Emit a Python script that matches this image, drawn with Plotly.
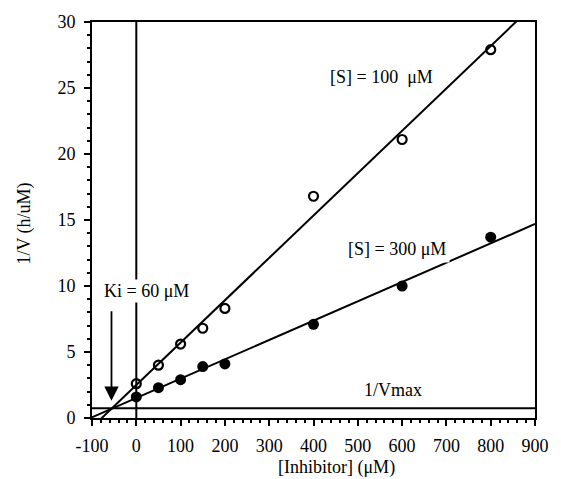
import plotly.graph_objects as go

# ---- data ----
inhibitor = [0, 50, 100, 150, 200, 400, 600, 800]
inv_v_s100 = [2.6, 4.0, 5.6, 6.8, 8.3, 16.8, 21.1, 27.9]
inv_v_s300 = [1.6, 2.3, 2.9, 3.9, 4.1, 7.1, 10.0, 13.7]

# fitted lines (slope, intercept)
fit_s100 = (0.0321, 2.5)
fit_s300 = (0.01464, 1.52)
line_x = [-100, 900]

inv_vmax = 0.73
ki_x = -56

x_ticks = list(range(-100, 901, 100))
y_ticks = list(range(0, 31, 5))

FONT = "Liberation Serif"

fig = go.Figure()

for (slope, icpt) in (fit_s100, fit_s300):
    fig.add_trace(go.Scatter(
        x=line_x, y=[icpt + slope * v for v in line_x],
        mode="lines", line=dict(color="black", width=2),
        hoverinfo="skip", showlegend=False))

fig.add_trace(go.Scatter(
    x=inhibitor, y=inv_v_s100, mode="markers",
    marker=dict(symbol="circle-open", size=9, color="black", line=dict(width=2.2, color="black")),
    showlegend=False))
fig.add_trace(go.Scatter(
    x=inhibitor, y=inv_v_s300, mode="markers",
    marker=dict(symbol="circle", size=11, color="black"),
    showlegend=False))

# reference lines: x = 0 and 1/Vmax
fig.add_shape(type="line", xref="x", yref="y", x0=0, x1=0, y0=0, y1=30,
              line=dict(color="black", width=2), layer="below")
fig.add_shape(type="line", xref="x", yref="y", x0=-100, x1=900, y0=inv_vmax, y1=inv_vmax,
              line=dict(color="black", width=2), layer="below")

tf = dict(family=FONT, size=18, color="black")
fig.add_annotation(x=553, y=25.85, text="[S] = 100&nbsp;&nbsp;μM", showarrow=False, font=tf)
fig.add_annotation(x=589, y=12.8, text="[S] = 300 μM", showarrow=False, font=tf,
                   bgcolor="white", borderpad=3)
fig.add_annotation(x=24, y=9.6, text="Ki = 60 μM", showarrow=False, font=tf,
                   bgcolor="white", borderpad=1)
fig.add_annotation(x=580, y=2.1, text="1/Vmax", showarrow=False, font=tf)
# arrow pointing at -Ki
fig.add_annotation(x=ki_x, y=1.3, ax=ki_x, ay=8.2, axref="x", ayref="y", xref="x", yref="y",
                   text="", showarrow=True, arrowhead=2, arrowsize=1.6, arrowwidth=1.8,
                   arrowcolor="black")

# axis titles
fig.add_annotation(xref="paper", yref="paper", x=-0.152, y=0.49, text="1/V (h/uM)",
                   xanchor="center", yanchor="middle",
                   textangle=-90, showarrow=False, font=tf)
fig.add_annotation(xref="paper", yref="paper", x=0.552, y=-0.124, text="[Inhibitor] (μM)",
                   xanchor="center", yanchor="middle",
                   showarrow=False, font=tf)

axis_common = dict(showgrid=False, zeroline=False, showline=True, linecolor="black",
                   linewidth=2, mirror=True, ticks="outside", ticklen=6, tickwidth=2,
                   tickcolor="black", tickfont=dict(family=FONT, size=18, color="black"))

fig.update_xaxes(range=[-100, 900], tickvals=x_ticks, ticktext=[str(v) for v in x_ticks],
                 minor=dict(dtick=20, ticklen=3, tickwidth=1.5, tickcolor="black", ticks="outside"),
                 ticklabelstandoff=4, **axis_common)
fig.update_yaxes(range=[0, 30], tickvals=y_ticks, ticktext=[str(v) for v in y_ticks],
                 minor=dict(dtick=1, ticklen=3, tickwidth=1.5, tickcolor="black", ticks="outside"),
                 ticklabelstandoff=5, **axis_common)

fig.update_layout(width=561, height=479, margin=dict(l=92, r=16, t=20, b=61),
                  paper_bgcolor="white", plot_bgcolor="white", showlegend=False)

fig.write_html("out.html")
